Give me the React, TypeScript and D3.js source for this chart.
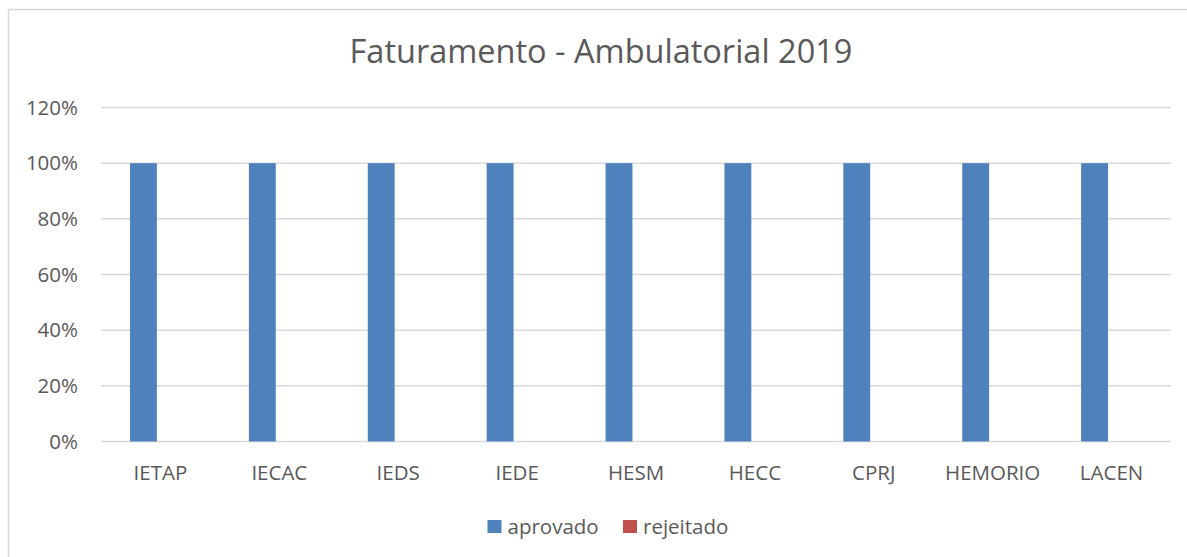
import React from "react";
import * as d3 from "d3";

const categories = ["IETAP", "IECAC", "IEDS", "IEDE", "HESM", "HECC", "CPRJ", "HEMORIO", "LACEN"];
const seriesNames = ["aprovado", "rejeitado"];
const aprovado = [1, 1, 1, 1, 1, 1, 1, 1, 1];
const rejeitado = [0, 0, 0, 0, 0, 0, 0, 0, 0];
const yTicks = [0, 0.2, 0.4, 0.6, 0.8, 1.0, 1.2];
const colors = ["#4f81bd", "#c0504d"];

const width = 1187;
const height = 557;
const margin = {left: 101, right: 16, top: 107.5, bottom: 115.5};
const font = "'Open Sans', sans-serif";
const textColor = "#595959";
const gridColor = "#d9d9d9";

export default function App() {
    const x = d3.scaleBand<string>()
        .domain(categories)
        .range([margin.left, width - margin.right]);
    const bw = x.bandwidth();
    // series sit slightly left of the category centre, as in the original
    const x1 = d3.scaleBand<string>()
        .domain(seriesNames)
        .range([-bw * 0.256, bw * 0.196]);
    const y = d3.scaleLinear()
        .domain([0, 1.2])
        .range([height - margin.bottom, margin.top]);

    const values = [aprovado, rejeitado];
    const fmt = d3.format(".0%");

    return (
        <svg width={width} height={height}
             style={{position: "absolute", left: 0, top: 0, background: "white"}}>
            <rect x={8.5} y={9.5} width={width} height={height} fill="white"
                  stroke={gridColor} strokeWidth={1.5}/>
            <text x={601} y={63} textAnchor="middle" fontFamily={font} fontSize={32.5}
                  fill={textColor}>Faturamento - Ambulatorial 2019</text>

            {yTicks.map(t => (
                <g key={t}>
                    <line x1={margin.left} x2={width - margin.right} y1={y(t)} y2={y(t)}
                          stroke={gridColor} strokeWidth={1.5}/>
                    <text x={78} y={y(t)} dy="0.35em" textAnchor="end" fontFamily={font}
                          fontSize={20.5} fill={textColor}>{fmt(t)}</text>
                </g>
            ))}

            {categories.map((c, i) => (
                <g key={c} transform={`translate(${x(c)! + bw / 2},0)`}>
                    {seriesNames.map((s, j) => (
                        <rect key={s} x={x1(s)} width={x1.bandwidth()}
                              y={y(values[j][i])} height={y(0) - y(values[j][i])}
                              fill={colors[j]}/>
                    ))}
                    <text x={0} y={473} dy="0.35em" textAnchor="middle" fontFamily={font}
                          fontSize={20.5} fill={textColor}>{c}</text>
                </g>
            ))}

            <g>
                {seriesNames.map((s, j) => {
                    const lx = [487.5, 623][j];
                    return (
                        <g key={s}>
                            <rect x={lx} y={520} width={14} height={13} fill={colors[j]}/>
                            <text x={lx + 20} y={526.5} dy="0.35em" fontFamily={font}
                                  fontSize={20.5} fill={textColor}>{s}</text>
                        </g>
                    );
                })}
            </g>
        </svg>
    );
}
